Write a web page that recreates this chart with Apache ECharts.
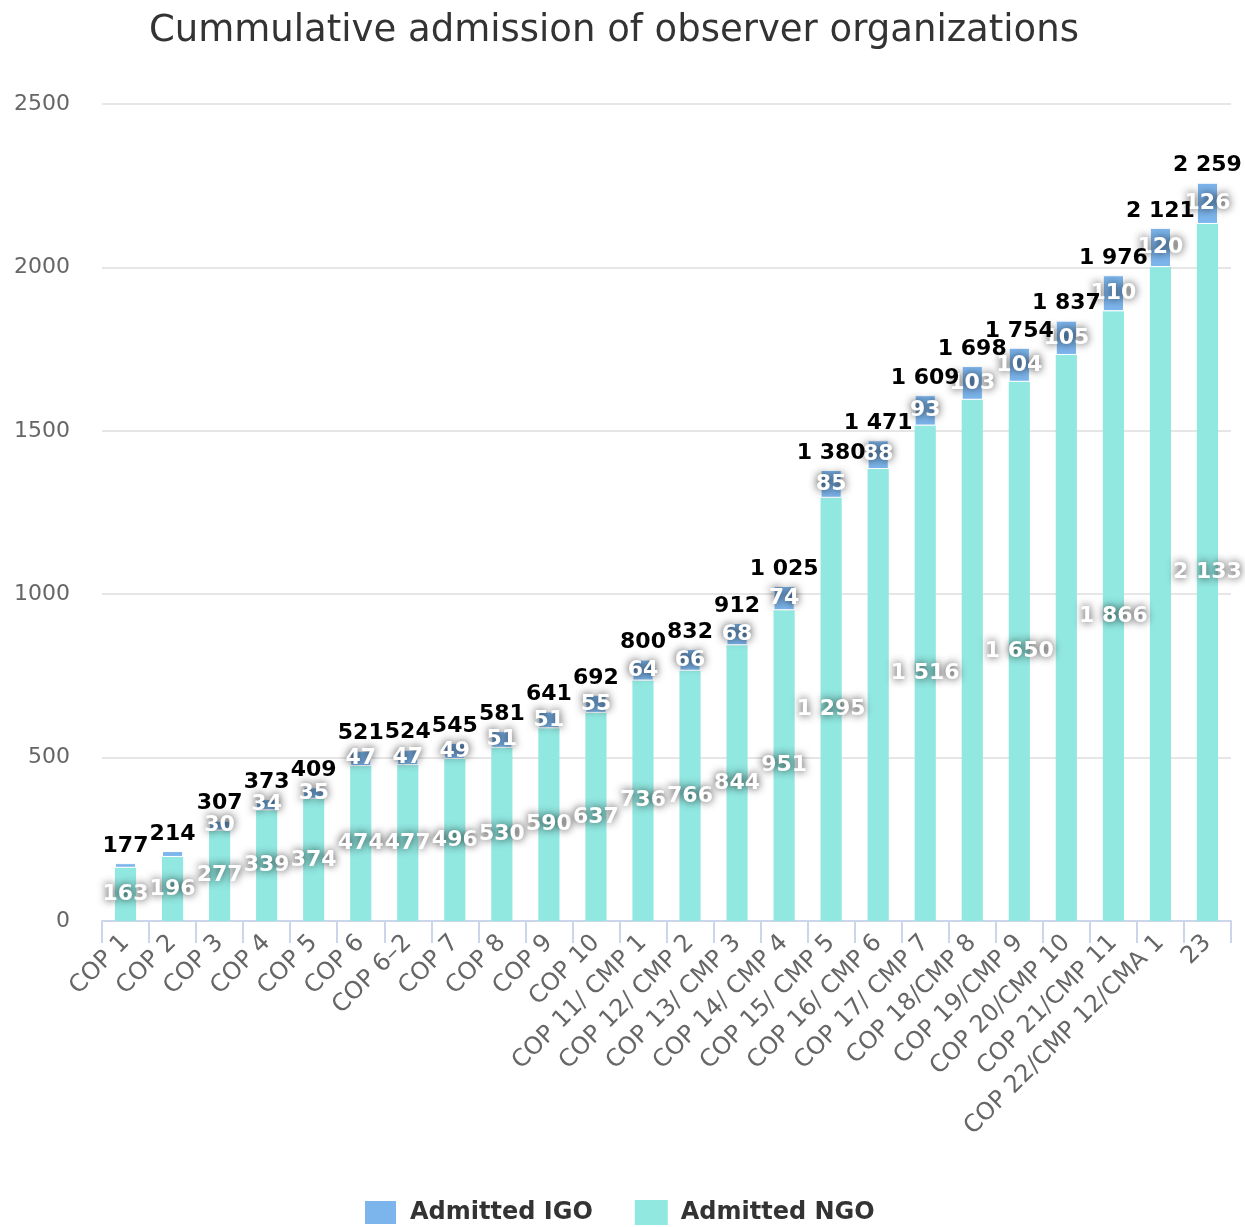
<!DOCTYPE html>
<html>
<head>
<meta charset="utf-8">
<script src="https://cdn.jsdelivr.net/npm/echarts@6/dist/echarts.min.js"></script>
<style>
  html, body { margin: 0; padding: 0; background: #fff; }
  #chart { width: 1245px; height: 1227px; }
</style>
</head>
<body>
<div id="chart"></div>
<script>
const categories = [
  "COP 1", "COP 2", "COP 3", "COP 4", "COP 5", "COP 6", "COP 6\u20132", "COP 7",
  "COP 8", "COP 9", "COP 10", "COP 11/ CMP 1", "COP 12/ CMP 2", "COP 13/ CMP 3",
  "COP 14/ CMP 4", "COP 15/ CMP 5", "COP 16/ CMP 6", "COP 17/ CMP 7", "COP 18/CMP 8",
  "COP 19/CMP 9", "COP 20/CMP 10", "COP 21/CMP 11", "COP 22/CMP 12/CMA 1", "23"
]
const ngoValues = [163, 196, 277, 339, 374, 474, 477, 496, 530, 590, 637, 736, 766, 844,
  951, 1295, 1383, 1516, 1595, 1650, 1732, 1866, 2001, 2133]
const igoValues = [14, 18, 30, 34, 35, 47, 47, 49, 51, 51, 55, 64, 66, 68,
  74, 85, 88, 93, 103, 104, 105, 110, 120, 126]
const yTicks = [0, 500, 1000, 1500, 2000, 2500]
// NGO labels that the original chart dropped because they overlapped
const hiddenNgoLabels = [16, 18, 20, 22]

const totals = ngoValues.map((v, i) => v + igoValues[i])

function fmt(n) {
  return String(n).replace(/\B(?=(\d{3})+(?!\d))/g, " ")
}

const innerLabel = {
  show: true,
  position: "inside",
  color: "#fff",
  fontFamily: "DejaVu Sans",
  fontSize: 22,
  fontWeight: "bold",
  textShadowColor: "rgba(0,0,0,0.85)",
  textShadowBlur: 9,
}

const chart = echarts.init(document.getElementById("chart"))

chart.setOption({
  animation: false,
  title: {
    text: "Cummulative admission of observer organizations",
    left: 144,
    top: 8,
    textStyle: {
      fontFamily: "DejaVu Sans",
      fontSize: 37,
      fontWeight: "normal",
      color: "#333",
    },
  },
  legend: {
    data: ["Admitted IGO", "Admitted NGO"],
    bottom: -4,
    left: 358,
    itemWidth: 33,
    itemHeight: 25,
    itemGap: 42,
    icon: "rect",
    textStyle: {
      fontFamily: "DejaVu Sans",
      fontSize: 24,
      fontWeight: "bold",
      color: "#333",
      padding: [0, 0, 0, 8],
    },
  },
  grid: {
    left: 102,
    right: 14,
    top: 104,
    bottom: 306,
  },
  xAxis: {
    type: "category",
    data: categories,
    axisLine: { lineStyle: { color: "#ccd6eb", width: 2 } },
    axisTick: { show: true, length: 22, lineStyle: { color: "#ccd6eb", width: 2 } },
    axisLabel: {
      rotate: 45,
      interval: 0,
      margin: 18,
      fontFamily: "DejaVu Sans",
      fontSize: 24,
      color: "#666",
    },
  },
  yAxis: {
    type: "value",
    min: yTicks[0],
    max: yTicks[yTicks.length - 1],
    interval: 500,
    splitLine: { lineStyle: { color: "#e6e6e6", width: 2 } },
    axisLabel: {
      margin: 32,
      fontFamily: "DejaVu Sans",
      fontSize: 22,
      color: "#666",
      formatter: v => String(v),
    },
  },
  series: [
    {
      name: "Admitted NGO",
      type: "bar",
      stack: "total",
      barWidth: "45%",
      data: ngoValues,
      itemStyle: { color: "#91e8e1" },
      label: {
        ...innerLabel,
        formatter: p => hiddenNgoLabels.includes(p.dataIndex) ? "" : fmt(p.value),
      },
    },
    {
      name: "Admitted IGO",
      type: "bar",
      stack: "total",
      data: igoValues,
      itemStyle: { color: "#7cb5ec", borderColor: "#fff", borderWidth: 1 },
      label: {
        ...innerLabel,
        formatter: p => p.value < 20 ? "" : fmt(p.value),
      },
    },
    {
      name: "Total",
      type: "bar",
      stack: "total",
      data: totals.map(() => 0),
      itemStyle: { color: "transparent" },
      label: {
        show: true,
        position: "top",
        distance: 6,
        color: "#000",
        fontFamily: "DejaVu Sans",
        fontSize: 22,
        fontWeight: "bold",
        formatter: p => fmt(totals[p.dataIndex]),
      },
    },
  ],
})
</script>
</body>
</html>
